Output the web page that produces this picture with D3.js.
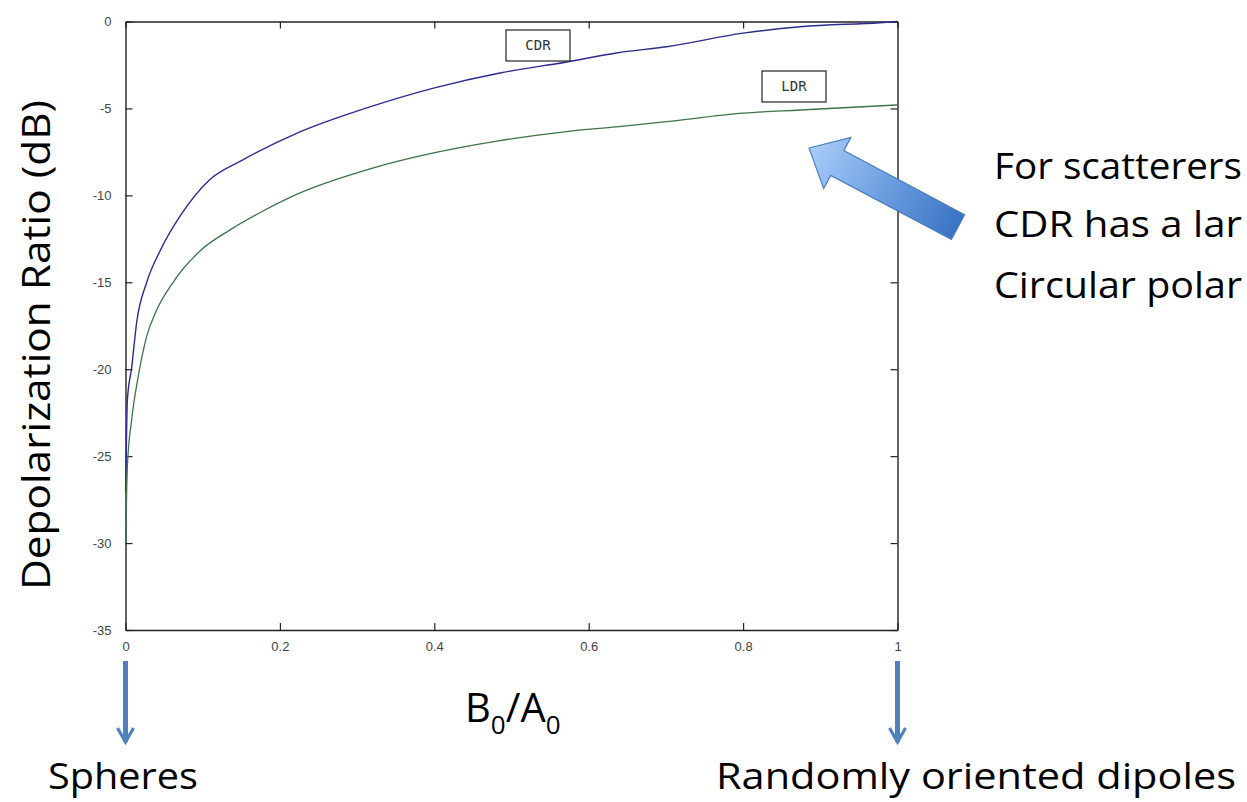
<!DOCTYPE html>
<html>
<head>
    <title>Depolarization ratio</title>
    <meta http-equiv="content-type" content="text/html; charset=utf-8">
    <script type="text/javascript" src="https://cdn.jsdelivr.net/npm/d3@7"></script>
    <style>
        body { margin: 0; background: #fff; }
        svg { display: block; }
        .tick-label { font-family: "Liberation Sans", sans-serif; font-size: 13px; fill: #444; }
        .big { font-family: "Open Sans", sans-serif; fill: #000; }
        .box-label { font-family: "DejaVu Sans Mono", monospace; font-size: 14px; fill: #333; }
    </style>
</head>
<body>
<div class='chart'></div>
<script type="text/javascript">
var width = 1247,
    height = 802;

// ======================
// data
// ======================
var ratio = [0.0003, 0.0024, 0.008, 0.0145, 0.0275, 0.0447, 0.0706, 0.109, 0.152, 0.226,
    0.3125, 0.399, 0.485, 0.5715, 0.636, 0.701, 0.80, 0.874, 0.977, 1];
var cdr = [-27, -21.8, -19.9, -17.3, -15.0, -13.2, -11.2, -9.1, -7.96, -6.35,
    -4.97, -3.83, -2.96, -2.33, -1.81, -1.45, -0.67, -0.3, -0.07, 0];

var ldrRatio = [0.0003, 0.0024, 0.008, 0.0166, 0.0275, 0.0404, 0.0616, 0.0965, 0.135, 0.174,
    0.226, 0.3125, 0.399, 0.485, 0.5715, 0.636, 0.701, 0.80, 0.874, 1];
var ldr = [-30, -25.6, -22.9, -20.4, -18.1, -16.6, -15.0, -13.2, -12.0, -11.0,
    -9.86, -8.53, -7.56, -6.85, -6.33, -6.06, -5.76, -5.27, -5.09, -4.8];

var xTicks = [0, 0.2, 0.4, 0.6, 0.8, 1];
var yTicks = [0, -5, -10, -15, -20, -25, -30, -35];

// ======================
// svg + scales
// ======================
var svg = d3.select('.chart')
        .append('svg')
        .attr('width', width)
        .attr('height', height);

var plot = {left: 125.5, top: 21.5, right: 897.5, bottom: 630};

var x = d3.scaleLinear().domain([0, 1]).range([plot.left, plot.right]);
var y = d3.scaleLinear().domain([-35, 0]).range([plot.bottom, plot.top]);

// axes, matlab style box with inward ticks
var tickLen = 7;
svg.append('g')
        .attr('transform', 'translate(0,' + plot.bottom + ')')
        .call(d3.axisBottom(x).tickValues(xTicks).tickSizeInner(-tickLen).tickSizeOuter(0)
            .tickFormat(d3.format('')).tickPadding(12))
        .call(styleAxis);
svg.append('g')
        .attr('transform', 'translate(0,' + plot.top + ')')
        .call(d3.axisTop(x).tickValues(xTicks).tickSizeInner(-tickLen).tickSizeOuter(0).tickFormat(''))
        .call(styleAxis);
svg.append('g')
        .attr('transform', 'translate(' + plot.left + ',0)')
        .call(d3.axisLeft(y).tickValues(yTicks).tickSizeInner(-tickLen).tickSizeOuter(0)
            .tickFormat(d3.format('d')).tickPadding(14))
        .call(styleAxis);
svg.append('g')
        .attr('transform', 'translate(' + plot.right + ',0)')
        .call(d3.axisRight(y).tickValues(yTicks).tickSizeInner(-tickLen).tickSizeOuter(0).tickFormat(''))
        .call(styleAxis);

function styleAxis(g) {
    g.select('.domain').attr('stroke', '#222').attr('stroke-width', 1.4);
    g.selectAll('.tick line').attr('stroke', '#222').attr('stroke-width', 1.2);
    g.selectAll('.tick text')
            .attr('class', 'tick-label')
            .text(function () { return this.textContent.replace('\u2212', '-'); });
}

// ======================
// curves
// ======================
var line = d3.line()
        .x(function (d) { return x(d[0]); })
        .y(function (d) { return y(d[1]); })
        .curve(d3.curveMonotoneX);

svg.append('path')
        .datum(d3.zip(ratio, cdr))
        .attr('d', line)
        .attr('fill', 'none')
        .attr('stroke', '#2c2c8e')
        .attr('stroke-width', 1.4);

svg.append('path')
        .datum(d3.zip(ldrRatio, ldr))
        .attr('d', line)
        .attr('fill', 'none')
        .attr('stroke', '#3d7448')
        .attr('stroke-width', 1.3);

// boxed curve labels
function boxLabel(cx, cy, text) {
    var g = svg.append('g').attr('transform', 'translate(' + cx + ',' + cy + ')');
    g.append('rect')
            .attr('x', -32).attr('y', -15)
            .attr('width', 64).attr('height', 31)
            .attr('fill', '#fff')
            .attr('stroke', '#222')
            .attr('stroke-width', 1.2);
    g.append('text')
            .attr('class', 'box-label')
            .attr('text-anchor', 'middle')
            .attr('dy', 5)
            .text(text);
}
boxLabel(538, 45, 'CDR');
boxLabel(794, 86, 'LDR');

// ======================
// titles
// ======================
svg.append('text')
        .attr('class', 'big')
        .attr('transform', 'translate(50,345) rotate(-90)')
        .attr('text-anchor', 'middle')
        .attr('font-size', 38)
        .attr('textLength', 490)
        .attr('lengthAdjust', 'spacingAndGlyphs')
        .text('Depolarization Ratio (dB)');

var xl = svg.append('text')
        .attr('class', 'big')
        .attr('x', 465)
        .attr('y', 722)
        .attr('font-size', 40);
xl.append('tspan').text('B');
xl.append('tspan').attr('font-size', 26).attr('dy', 12).text('0');
xl.append('tspan').attr('dy', -12).text('/A');
xl.append('tspan').attr('font-size', 26).attr('dy', 12).text('0');

// ======================
// annotations
// ======================
// big arrow pointing at the curves (drawn in its own rotated frame)
var tip = [809, 148], tail = [958, 227];
var ang = Math.atan2(tail[1] - tip[1], tail[0] - tip[0]);
var len = Math.hypot(tail[0] - tip[0], tail[1] - tip[1]);
var headLen = 32, headW = 29, shaftW = 14;

var defs = svg.append('defs');
var grad = defs.append('linearGradient')
        .attr('id', 'arrowGrad')
        .attr('gradientUnits', 'userSpaceOnUse')
        .attr('x1', 0).attr('y1', 0)
        .attr('x2', len).attr('y2', 0);
grad.append('stop').attr('offset', 0).attr('stop-color', '#aacdfa');
grad.append('stop').attr('offset', 0.5).attr('stop-color', '#6d9fe0');
grad.append('stop').attr('offset', 1).attr('stop-color', '#3a73c4');

svg.append('path')
        .attr('transform', 'translate(' + tip[0] + ',' + tip[1] + ') rotate(' + (ang * 180 / Math.PI) + ')')
        .attr('d', 'M0,0 L' + headLen + ',' + (-headW) + ' L' + headLen + ',' + (-shaftW) +
            ' L' + len + ',' + (-shaftW) + ' L' + len + ',' + shaftW +
            ' L' + headLen + ',' + shaftW + ' L' + headLen + ',' + headW + 'Z')
        .attr('fill', 'url(#arrowGrad)')
        .attr('stroke', '#4a7ebb')
        .attr('stroke-width', 1.2);

// the note runs off the right edge of the slide; keep what is visible
var note = [
    {text: 'For scatterers', y: 179, w: 248},
    {text: 'CDR has a lar', y: 237, w: 248},
    {text: 'Circular polar', y: 298, w: 248}
];
svg.selectAll('.note')
        .data(note)
        .enter()
        .append('text')
        .attr('class', 'big note')
        .attr('x', 994)
        .attr('y', function (d) { return d.y; })
        .attr('font-size', 37)
        .attr('textLength', function (d) { return d.w; })
        .attr('lengthAdjust', 'spacingAndGlyphs')
        .text(function (d) { return d.text; });

// down arrows to the two limiting cases
var marks = [
    {x: 0, text: 'Spheres', tx: 48, w: 150},
    {x: 1, text: 'Randomly oriented dipoles', tx: 716, w: 520}
];
defs.append('marker')
        .attr('id', 'vee')
        .attr('viewBox', '0 0 10 10')
        .attr('refX', 8).attr('refY', 5)
        .attr('markerWidth', 4).attr('markerHeight', 4)
        .attr('orient', 'auto')
        .append('path')
        .attr('d', 'M1,1 L8,5 L1,9')
        .attr('fill', 'none')
        .attr('stroke', '#4f81bd')
        .attr('stroke-width', 1.6);

svg.selectAll('.drop')
        .data(marks)
        .enter()
        .append('line')
        .attr('x1', function (d) { return x(d.x); })
        .attr('x2', function (d) { return x(d.x); })
        .attr('y1', 661)
        .attr('y2', 742)
        .attr('stroke', '#4f81bd')
        .attr('stroke-width', 5)
        .attr('marker-end', 'url(#vee)');

svg.selectAll('.case')
        .data(marks)
        .enter()
        .append('text')
        .attr('class', 'big')
        .attr('x', function (d) { return d.tx; })
        .attr('y', 789)
        .attr('font-size', 36)
        .attr('textLength', function (d) { return d.w; })
        .attr('lengthAdjust', 'spacingAndGlyphs')
        .text(function (d) { return d.text; });
</script>
</body>
</html>
